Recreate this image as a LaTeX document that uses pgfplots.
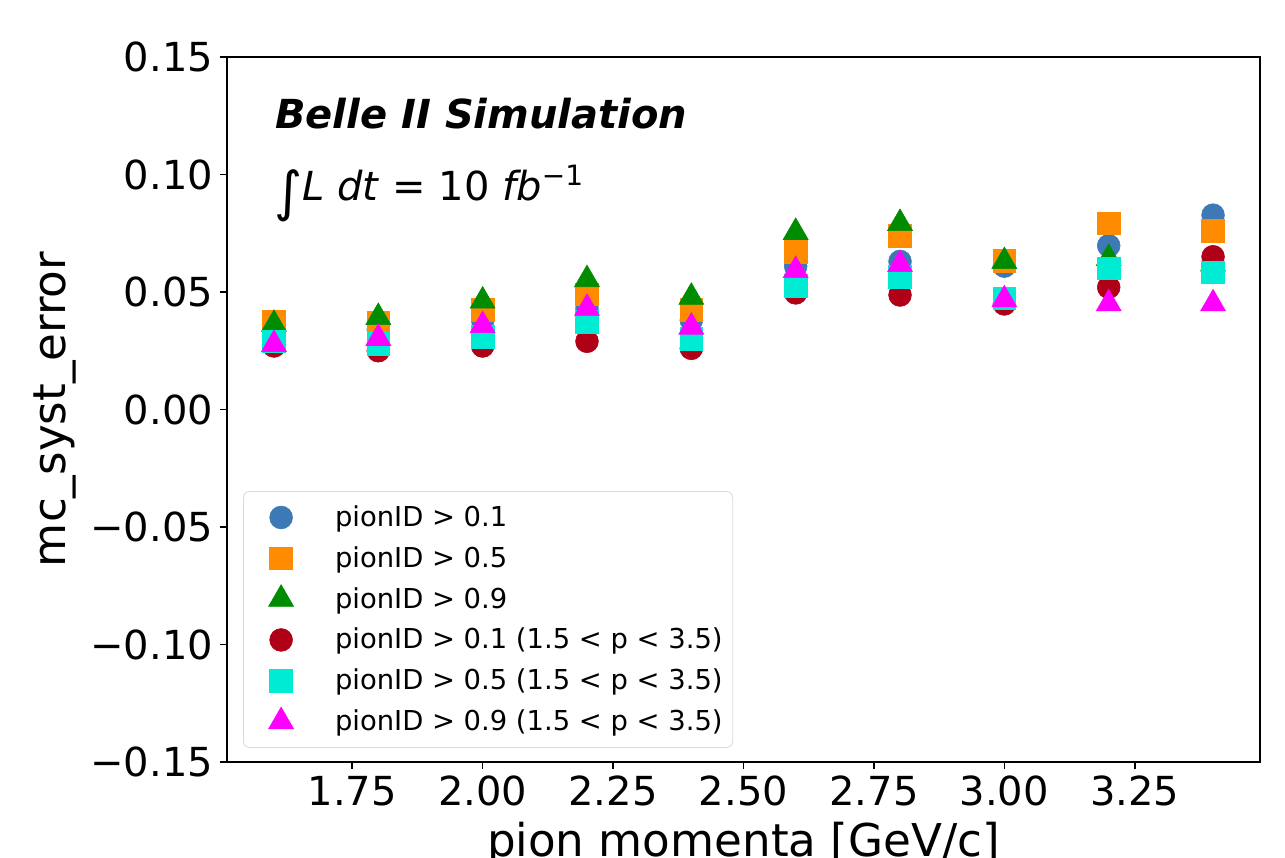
\documentclass[border=0pt]{standalone}
\usepackage{fontspec}
\setmainfont{DejaVu Sans}
\usepackage{pgfplots}
\pgfplotsset{compat=1.18}
\definecolor{cblue}{HTML}{3D79B6}
\definecolor{corange}{HTML}{FF8C00}
\definecolor{cgreen}{HTML}{008C00}
\definecolor{cred}{HTML}{B00018}
\definecolor{ccyan}{HTML}{00EBD3}
\definecolor{cmag}{HTML}{FF00FF}
\begin{document}
\begin{tikzpicture}
\begin{axis}[
  scale only axis, width=516.5pt, height=352.5pt,
  xmin=1.51, xmax=3.49, ymin=-0.15, ymax=0.15,
  xtick={1.75,2,2.25,2.5,2.75,3,3.25},
  xticklabels={1.75,2.00,2.25,2.50,2.75,3.00,3.25},
  ytick={-0.15,-0.1,-0.05,0,0.05,0.1,0.15},
  yticklabels={−0.15,−0.10,−0.05,0.00,0.05,0.10,0.15},
  tick label style={font=\fontsize{20}{23}\selectfont},
  tick align=outside, xtick pos=bottom, ytick pos=left,
  major tick length=3.5pt,
  every tick/.style={black, line width=0.8pt},
  axis line style={line width=1pt},
  xlabel={pion momenta [GeV/c]}, ylabel={mc\_syst\_error},
  xlabel style={yshift=-1pt},
  label style={font=\fontsize{22.6}{26}\selectfont},
  legend style={at={(0.0155,0.02)}, anchor=south west, draw=black!15,
    rounded corners=3pt, font=\fontsize{13.7}{16}\selectfont, row sep=4.5pt,
    inner xsep=3pt, inner ysep=5pt},
  legend cell align=left,
  legend image code/.code={\draw[#1] plot coordinates {(0.55cm,0cm)}; \path (0cm,0cm) (1.42cm,0cm);},
]
\addplot[only marks, mark=*, color=cblue, mark size=5.7pt, mark options={line width=0.3pt}] coordinates {
(1.6,0.034)(1.8,0.034)(2.0,0.038)(2.2,0.043)(2.4,0.038)(2.6,0.061)(2.8,0.063)(3.0,0.061)(3.2,0.0697)(3.4,0.0827)};
\addlegendentry{pionID > 0.1}
\addplot[only marks, mark=square*, color=corange, mark size=5.7pt, mark options={line width=0.3pt}] coordinates {
(1.6,0.0374)(1.8,0.037)(2.0,0.0424)(2.2,0.049)(2.4,0.0424)(2.6,0.0671)(2.8,0.0738)(3.0,0.0634)(3.2,0.0792)(3.4,0.076)};
\addlegendentry{pionID > 0.5}
\addplot[only marks, mark=triangle*, color=cgreen, mark size=7.2pt, mark options={line width=0.3pt}] coordinates {
(1.6,0.0363)(1.8,0.0392)(2.0,0.0462)(2.2,0.0553)(2.4,0.0478)(2.6,0.0754)(2.8,0.0792)(3.0,0.063)(3.2,0.0643)(3.4,0.062)};
\addlegendentry{pionID > 0.9}
\addplot[only marks, mark=*, color=cred, mark size=5.7pt, mark options={line width=0.3pt}] coordinates {
(1.6,0.027)(1.8,0.025)(2.0,0.027)(2.2,0.029)(2.4,0.026)(2.6,0.0496)(2.8,0.0487)(3.0,0.0449)(3.2,0.052)(3.4,0.065)};
\addlegendentry{pionID > 0.1 (1.5 < p < 3.5)}
\addplot[only marks, mark=square*, color=ccyan, mark size=5.7pt, mark options={line width=0.3pt}] coordinates {
(1.6,0.029)(1.8,0.028)(2.0,0.031)(2.2,0.0373)(2.4,0.030)(2.6,0.0528)(2.8,0.0566)(3.0,0.0473)(3.2,0.0601)(3.4,0.0584)};
\addlegendentry{pionID > 0.5 (1.5 < p < 3.5)}
\addplot[only marks, mark=triangle*, color=cmag, mark size=7.2pt, mark options={line width=0.3pt}] coordinates {
(1.6,0.0277)(1.8,0.0303)(2.0,0.0358)(2.2,0.0431)(2.4,0.0351)(2.6,0.0592)(2.8,0.0617)(3.0,0.0467)(3.2,0.045)(3.4,0.045)};
\addlegendentry{pionID > 0.9 (1.5 < p < 3.5)}
\node[anchor=base west, font=\fontsize{20}{23}\selectfont\bfseries\itshape] at (rel axis cs:0.04,0.899) {Belle II Simulation};
\node[anchor=base west, font=\fontsize{20}{23}\selectfont] at (rel axis cs:0.039,0.797) {\raisebox{-0.25em}{\scalebox{1.35}{∫}}\textit{L dt} = 10 \textit{fb}\textsuperscript{−1}};
\end{axis}
\pgfresetboundingbox
\path ([shift={(-113.5pt,-48pt)}]current axis.south west) rectangle ([shift={(12.5pt,28.5pt)}]current axis.north east);
\end{tikzpicture}
\end{document}
